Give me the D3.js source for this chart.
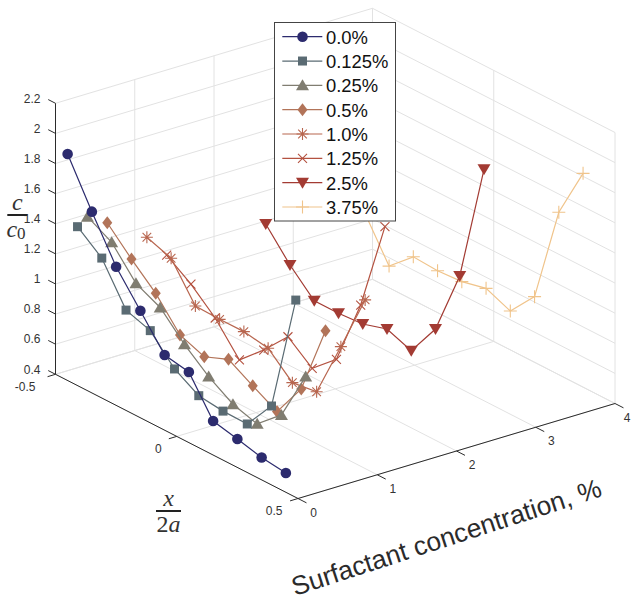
<!DOCTYPE html>
<html>
<head>
<meta charset="utf-8">
<script src="https://d3js.org/d3.v7.min.js"></script>
<style>
  html, body { margin: 0; padding: 0; background: #fff; }
  text { font-family: "Liberation Sans", Arial, sans-serif; }
  .tick-label { font-size: 12px; fill: #333; }
  text.math { font-family: "Liberation Serif", serif; fill: #333; }
</style>
</head>
<body>
<div id="chart"></div>
<script>
// concentrations in %, same order as the legend
var labels = ["0.0%", "0.125%", "0.25%", "0.5%", "1.0%", "1.25%", "2.5%", "3.75%"];
var concentrations = [0, 0.125, 0.25, 0.5, 1, 1.25, 2.5, 3.75];
var positions = [-0.45, -0.35, -0.25, -0.15, -0.05, 0.05, 0.15, 0.25, 0.35, 0.45];

var c000 = [1.904, 1.604, 1.321, 1.111, 0.899, 0.869, 0.626, 0.589, 0.549, 0.528];
var c0125 = [1.402, 1.276, 1.013, 0.959, 0.787, 0.692, 0.672, 0.669, 0.871, 1.657];
var c025 = [1.449, 1.361, 1.171, 1.093, 0.931, 0.799, 0.698, 0.650, 0.792, 1.129];
var c05 = [1.369, 1.210, 1.065, 0.871, 0.809, 0.874, 0.781, 0.692, 0.925, 1.394];
var c10 = [1.194, 1.137, 0.902, 0.896, 0.897, 0.869, 0.723, 0.745, 1.127, 1.520];
var c125 = [1.036, 0.926, 0.783, 0.587, 0.735, 0.906, 0.779, 0.921, 1.364, 1.967];
var c25 = [1.045, 0.855, 0.700, 0.700, 0.711, 0.760, 0.698, 0.925, 1.360, 2.151];
var c375 = [0.921, 0.651, 0.795, 0.785, 0.795, 0.833, 0.765, 0.943, 1.586, 1.927];
var allValues = [c000, c0125, c025, c05, c10, c125, c25, c375];

var colors = ["#2c2b6e", "#5a6b73", "#807d71", "#b27459", "#b8664f", "#b45240", "#a33b33", "#f0c48b"];
var markers = ["circle", "square", "triangle", "diamond", "asterisk", "cross", "down", "plus"];

var xTicks = [-0.5, 0, 0.5];
var sTicks = [0, 1, 2, 3, 4];
var zTicks = [0.4, 0.6, 0.8, 1, 1.2, 1.4, 1.6, 1.8, 2, 2.2];

var svgWidth = 631;
var svgHeight = 602;

var svg = d3.select("#chart")
  .append("svg")
    .attr("width", svgWidth)
    .attr("height", svgHeight)
    .style("display", "block");

// Parallel projection of the box, each scale gives the screen shift along one data axis
var xToU = d3.scaleLinear().domain([-0.5, 0.5]).range([0, 242.5]);
var xToV = d3.scaleLinear().domain([-0.5, 0.5]).range([0, 124.2]);
var sToU = d3.scaleLinear().domain([0, 4]).range([0, 317]);
var sToV = d3.scaleLinear().domain([0, 4]).range([0, -95]);
var zToV = d3.scaleLinear().domain([0.4, 2.2]).range([0, -271]);

function project(x, s, z) {
  return [55.5 + xToU(x) + sToU(s), 374.3 + xToV(x) + sToV(s) + zToV(z)];
}

function seg(g, a, b, color, width) {
  g.append("line")
    .attr("x1", a[0]).attr("y1", a[1])
    .attr("x2", b[0]).attr("y2", b[1])
    .attr("stroke", color)
    .attr("stroke-width", width);
}

// Grid
var gridColor = "#e2e2e2";
var gridG = svg.append("g");
zTicks.forEach(function(z) {
  seg(gridG, project(-0.5, 0, z), project(-0.5, 4, z), gridColor, 1);
  seg(gridG, project(-0.5, 4, z), project(0.5, 4, z), gridColor, 1);
});
sTicks.forEach(function(s) {
  seg(gridG, project(-0.5, s, 0.4), project(0.5, s, 0.4), gridColor, 1);
  if (s > 0) seg(gridG, project(-0.5, s, 0.4), project(-0.5, s, 2.2), gridColor, 1);
});
xTicks.forEach(function(x) {
  seg(gridG, project(x, 0, 0.4), project(x, 4, 0.4), gridColor, 1);
  if (x > -0.5) seg(gridG, project(x, 4, 0.4), project(x, 4, 2.2), gridColor, 1);
});

// Axes
var axisColor = "#2b2b2b";
var axisG = svg.append("g");
seg(axisG, project(-0.5, 0, 0.4), project(-0.5, 0, 2.2), axisColor, 1);
seg(axisG, project(-0.5, 0, 0.4), project(0.5, 0, 0.4), axisColor, 1);
seg(axisG, project(0.5, 0, 0.4), project(0.5, 4, 0.4), axisColor, 1);

zTicks.forEach(function(z) {
  var p = project(-0.5, 0, z);
  seg(axisG, p, project(-0.53, 0, z), axisColor, 1);
  svg.append("text")
    .attr("class", "tick-label")
    .attr("x", p[0] - 15)
    .attr("y", p[1] - 5)
    .attr("dy", "0.35em")
    .attr("text-anchor", "end")
    .text(d3.format("~g")(z));
});
xTicks.forEach(function(x, i) {
  var p = project(x, 0, 0.4);
  seg(axisG, p, project(x, -0.1, 0.4), axisColor, 1);
  svg.append("text")
    .attr("class", "tick-label")
    .attr("x", p[0] - [20, 15, 15.5][i])
    .attr("y", p[1] + 12.5)
    .attr("dy", "0.35em")
    .attr("text-anchor", "end")
    .text(x);
});
sTicks.forEach(function(s) {
  var p = project(0.5, s, 0.4);
  seg(axisG, p, project(0.535, s, 0.4), axisColor, 1);
  svg.append("text")
    .attr("class", "tick-label")
    .attr("x", Math.min(p[0] + 15.5, svgWidth - 4))  // the 4 sits right at the window edge
    .attr("y", p[1] + 14)
    .attr("dy", "0.35em")
    .attr("text-anchor", "middle")
    .text(s);
});

// Marker shapes
function markerPath(name) {
  var p = d3.path();
  if (name == "circle") return d3.symbol(d3.symbolCircle, 88)();
  if (name == "square") {
    p.rect(-4.5, -4.5, 9, 9);
  } else if (name == "triangle") {
    p.moveTo(0, -6); p.lineTo(6.5, 5); p.lineTo(-6.5, 5); p.closePath();
  } else if (name == "down") {
    p.moveTo(0, 6); p.lineTo(6.5, -5); p.lineTo(-6.5, -5); p.closePath();
  } else if (name == "diamond") {
    p.moveTo(0, -6.5); p.lineTo(5, 0); p.lineTo(0, 6.5); p.lineTo(-5, 0); p.closePath();
  } else if (name == "asterisk") {
    p.moveTo(0, -6); p.lineTo(0, 6);
    p.moveTo(-6, 0); p.lineTo(6, 0);
    p.moveTo(-4.3, -4.3); p.lineTo(4.3, 4.3);
    p.moveTo(-4.3, 4.3); p.lineTo(4.3, -4.3);
  } else if (name == "cross") {
    p.moveTo(-4.5, -4.5); p.lineTo(4.5, 4.5);
    p.moveTo(-4.5, 4.5); p.lineTo(4.5, -4.5);
  } else if (name == "plus") {
    p.moveTo(-6.5, 0); p.lineTo(6.5, 0);
    p.moveTo(0, -6.5); p.lineTo(0, 6.5);
  }
  return p.toString();
}

function isOpen(name) {
  return name == "asterisk" || name == "cross" || name == "plus";
}

function drawMarker(g, name, color, pt) {
  g.append("path")
    .attr("d", markerPath(name))
    .attr("transform", "translate(" + pt[0] + "," + pt[1] + ")")
    .attr("fill", isOpen(name) ? "none" : color)
    .attr("stroke", isOpen(name) ? color : "none")
    .attr("stroke-width", 1.1);
}

// Series, farthest first so the near ones land on top
var line = d3.line();
var seriesG = svg.append("g");
d3.range(labels.length).reverse().forEach(function(k) {
  var pts = positions.map(function(x, i) {
    return project(x, concentrations[k], allValues[k][i]);
  });
  var g = seriesG.append("g");
  g.append("path")
    .attr("d", line(pts))
    .attr("fill", "none")
    .attr("stroke", colors[k])
    .attr("stroke-width", 1.2);
  pts.forEach(function(pt) {
    drawMarker(g, markers[k], colors[k], pt);
  });
});

// Legend
var legend = svg.append("g");
legend.append("rect")
  .attr("x", 274.5).attr("y", 22.5)
  .attr("width", 121).attr("height", 198.5)
  .attr("fill", "#fff")
  .attr("stroke", "#444")
  .attr("stroke-width", 1);
var legendY = d3.scaleLinear().domain([0, 7]).range([36.7, 207]);
labels.forEach(function(label, k) {
  var y = legendY(k);
  seg(legend, [282.3, y], [322.3, y], colors[k], 1.2);
  drawMarker(legend, markers[k], colors[k], [302.5, y]);
  legend.append("text")
    .attr("x", 326)
    .attr("y", y + 0.5)
    .attr("dy", "0.35em")
    .attr("font-size", "18.4px")
    .attr("fill", "#111")
    .text(label);
});

// Axis labels
svg.append("text")
  .attr("transform", "translate(295, 596) rotate(-18)")
  .attr("font-size", "26.4px")
  .attr("fill", "#2b2b2b")
  .text("Surfactant concentration, %");

function fraction(cx, barY, halfWidth, top) {
  var g = svg.append("g");
  seg(g, [cx - halfWidth, barY], [cx + halfWidth, barY], "#222", 2);
  g.append("text").attr("class", "math")
    .attr("x", cx).attr("y", barY - 5)
    .attr("text-anchor", "middle")
    .attr("font-size", "24px")
    .attr("font-style", "italic")
    .text(top);
  return g;
}

var cFrac = fraction(17.3, 215, 10, "c");
var cBottom = cFrac.append("text").attr("class", "math")
  .attr("x", 16).attr("y", 237)
  .attr("text-anchor", "middle")
  .attr("font-size", "24px");
cBottom.append("tspan").attr("font-style", "italic").text("c");
cBottom.append("tspan").attr("font-size", "17px").attr("dy", 2).text("0");

var xFrac = fraction(168.5, 511, 12.5, "x");
var xBottom = xFrac.append("text").attr("class", "math")
  .attr("x", 168.5).attr("y", 532)
  .attr("text-anchor", "middle")
  .attr("font-size", "24px");
xBottom.append("tspan").text("2");
xBottom.append("tspan").attr("font-style", "italic").text("a");
</script>
</body>
</html>
